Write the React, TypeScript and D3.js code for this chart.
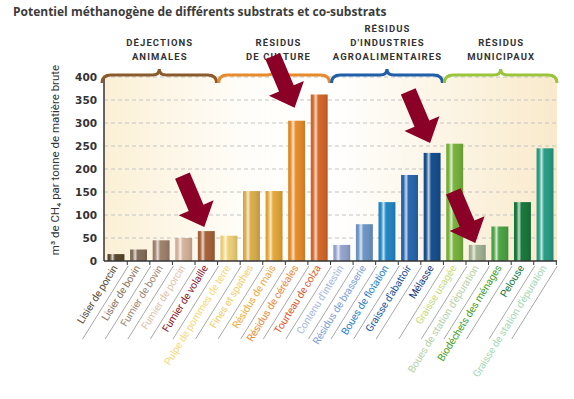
import * as d3 from "d3";

const categories = [
  "Lisier de porcin",
  "Lisier de bovin",
  "Fumier de bovin",
  "Fumier de porcin",
  "Fumier de volaille",
  "Pulpe de pommes de terre",
  "Fines et spathes",
  "Résidus de maïs",
  "Résidus de céréales",
  "Tourteau de colza",
  "Contenu d'intestin",
  "Résidus  de brasserie",
  "Boues de flotation",
  "Graisse d'abattoir",
  "Mélasse",
  "Graisse usagée",
  "Boues de station d'épuration",
  "Biodéchets des ménages",
  "Pelouse",
  "Graisse de station d'épuration",
];
const values = [15, 25, 45, 50, 65, 55, 152, 152, 305, 362, 35, 80, 128, 187, 235, 255, 35, 75, 128, 245];
const barColors = [
  "#5a4a30", "#85705c", "#a08470", "#d6b49c", "#a8643a",
  "#f0d27a", "#dcb04e", "#e6a93a", "#e88e2e", "#d66a2a",
  "#97a6d0", "#6f97c8", "#2588c6", "#2a68b0", "#17508f",
  "#78b43c", "#a4b494", "#4ea646", "#1a7a3c", "#2a9f88",
];
const labelColors = [
  "#5a4a30", "#8a7560", "#a08a78", "#e2c3ab", "#8b1a2b",
  "#f5d97a", "#f2cd6a", "#f0aa3c", "#ea8a3c", "#e05a2a",
  "#a9b9e2", "#7c9fda", "#2a82ca", "#1b58a0", "#1a3a80",
  "#c6dc7c", "#b9d1a8", "#46a02c", "#1a7a40", "#a8d8b8",
];
const groupLines = [
  ["DÉJECTIONS", "ANIMALES"],
  ["RÉSIDUS", "DE CULTURE"],
  ["RÉSIDUS", "D'INDUSTRIES", "AGROALIMENTAIRES"],
  ["RÉSIDUS", "MUNICIPAUX"],
];
const groupColors = ["#8b5a2b", "#e8892b", "#1f5fa8", "#9bc43a"];
const groupSizes = [5, 5, 5, 5];
const yTicks = [0, 50, 100, 150, 200, 250, 300, 350, 400];
const highlighted = ["Fumier de volaille", "Résidus de céréales", "Mélasse", "Boues de station d'épuration"];
const arrowGaps = [4, 13, 10, 2];

const W = 574;
const H = 399;
const left = 104;
const right = 557;
const top = 77;
const bottom = 261;
const labelAngle = 58;

function brace(x1: number, x2: number, y: number) {
  const xm = (x1 + x2) / 2;
  return `M${x1},${y + 8} Q${x1},${y} ${x1 + 9},${y} L${xm - 7},${y} Q${xm},${y} ${xm},${y - 6} Q${xm},${y} ${xm + 7},${y} L${x2 - 9},${y} Q${x2},${y} ${x2},${y + 8}`;
}

export default function App() {
  const x = d3.scaleBand().domain(categories).range([left, right]).paddingInner(0.25).paddingOuter(0.155);
  const y = d3.scaleLinear().domain([0, 400]).range([bottom, top]);
  const bw = x.bandwidth();
  const step = x.step();
  const edge = (i: number) => x(categories[i])! - (step - bw) / 2;

  let start = 0;
  const groups = groupSizes.map((n, g) => {
    const x1 = g === 0 ? left - 2 : edge(start) + 1;
    const x2 = start + n >= categories.length ? right : edge(start + n) - 1;
    start += n;
    return { x1, x2, g };
  });

  const arrowPath = (L: number) =>
    `M0,0 L-21,-19 L-21,-8 L${-L},-8 L${-L},8 L-21,8 L-21,19 Z`;

  const rad = (labelAngle * Math.PI) / 180;
  const lineLen = 86;

  return (
    <svg width={W} height={H} style={{ position: "absolute", left: 0, top: 0, background: "#fff" }}>
      <defs>
        <linearGradient id="bg" x1="0" x2="1" y1="0" y2="0">
          <stop offset="0" stopColor="#fbf0d6" />
          <stop offset="0.3" stopColor="#fffdf8" />
          <stop offset="0.5" stopColor="#ffffff" />
          <stop offset="1" stopColor="#f9eacb" />
        </linearGradient>
        {barColors.map((c, i) => {
          const col = d3.color(c)!;
          return (
            <linearGradient key={i} id={`bar${i}`} x1="0" x2="1" y1="0" y2="0">
              <stop offset="0" stopColor={col.darker(0.2).formatHex()} />
              <stop offset="0.14" stopColor={c} />
              <stop offset="0.3" stopColor={d3.interpolateRgb(c, "#ffffff")(0.75)} />
              <stop offset="0.44" stopColor={c} />
              <stop offset="0.75" stopColor={col.darker(0.15).formatHex()} />
              <stop offset="1" stopColor={col.darker(0.45).formatHex()} />
            </linearGradient>
          );
        })}
      </defs>

      <text x={13} y={16} fontFamily="'Open Sans', sans-serif" fontWeight={700} fontSize={12} fill="#3c3c3c">
        Potentiel méthanogène de différents substrats et co-substrats
      </text>

      <rect x={left} y={top} width={right - left} height={bottom - top} fill="url(#bg)" />

      {yTicks.filter((t) => t > 0).map((t) => (
        <line key={t} x1={left} x2={right} y1={y(t)} y2={y(t)} stroke="#c4c4c4" strokeDasharray="4,3" />
      ))}

      {categories.map((c, i) => (
        <rect key={c} x={x(c)} y={y(values[i])} width={bw} height={bottom - y(values[i])} fill={`url(#bar${i})`} />
      ))}

      <line x1={left} x2={left} y1={top} y2={bottom} stroke="#333" strokeWidth={1.5} />
      <line x1={left} x2={right} y1={bottom} y2={bottom} stroke="#333" strokeWidth={1.5} />
      {categories.map((c, i) => (
        <line key={c} x1={edge(i) + step} x2={edge(i) + step} y1={bottom} y2={bottom + 4} stroke="#333" />
      ))}

      {yTicks.map((t) => (
        <text key={t} x={97} y={y(t) + 4} textAnchor="end" fontFamily="'DejaVu Sans', sans-serif" fontWeight={700} fontSize={10.5} fill="#333">
          {t}
        </text>
      ))}

      <text
        transform={`translate(59,160) rotate(-90)`}
        textAnchor="middle"
        fontFamily="Roboto, sans-serif"
        fontSize={11.5}
        fill="#333"
      >
        m³ de CH₄ par tonne de matière brute
      </text>

      {categories.map((c, i) => {
        const x0 = edge(i) + step + 1;
        const y0 = bottom + 5;
        return (
          <line
            key={c}
            x1={x0}
            y1={y0}
            x2={x0 - lineLen * Math.cos(rad)}
            y2={y0 + lineLen * Math.sin(rad)}
            stroke="#a8a8a8"
            strokeWidth={1}
          />
        );
      })}
      {categories.map((c, i) => (
        <text
          key={c}
          transform={`translate(${x(c)! + bw / 2 + 2},${bottom + 7}) rotate(${-labelAngle})`}
          textAnchor="end"
          fontFamily="Roboto, sans-serif"
          fontSize={10.3}
          letterSpacing={-0.2}
          fill={labelColors[i]}
        >
          {c}
        </text>
      ))}

      {groups.map(({ x1, x2, g }) => (
        <path key={g} d={brace(x1, x2, 75)} fill="none" stroke={groupColors[g]} strokeWidth={3} />
      ))}
      {groups.map(({ x1, x2, g }) => {
        const lines = groupLines[g];
        const cx = (x1 + x2) / 2 + (g === 1 ? 4 : 0);
        return (
          <text key={g} textAnchor="middle" fontFamily="Roboto, sans-serif" fontWeight={700} fontSize={9.5} letterSpacing={1.1} fill="#333">
            {lines.map((l, k) => (
              <tspan key={k} x={cx + 0.5} y={60 - (lines.length - 1 - k) * 14}>
                {l}
              </tspan>
            ))}
          </text>
        );
      })}

      {highlighted.map((c, k) => {
        const i = categories.indexOf(c);
        const tx = x(c)! + bw / 2 - 2;
        const ty = y(values[i]) - arrowGaps[k];
        return (
          <path key={c} d={arrowPath(56)} fill="#8b0026" transform={`translate(${tx},${ty}) rotate(67)`} />
        );
      })}
    </svg>
  );
}
